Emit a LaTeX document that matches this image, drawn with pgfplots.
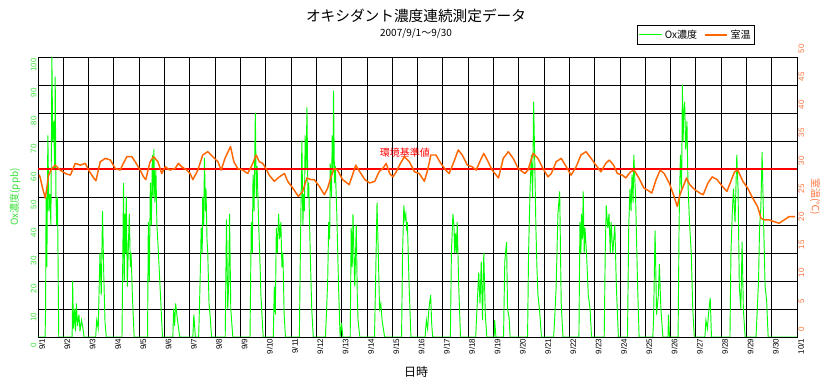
\documentclass[border=0pt]{standalone}
\usepackage{fontspec}
\setmainfont{Liberation Sans}
\newfontfamily\jp{Noto Sans CJK JP}
\usepackage{pgfplots}
\pgfplotsset{compat=1.18}
\definecolor{oxgreen}{RGB}{0,255,0}
\definecolor{oxlabel}{RGB}{60,225,60}
\definecolor{temporange}{RGB}{255,102,0}
\definecolor{templabel}{RGB}{255,115,60}
\begin{document}
\begin{tikzpicture}
\begin{axis}[
  at={(0,0)}, anchor=south west,
  scale only axis, width=569.25pt, height=210pt,
  xmin=0, xmax=30, ymin=0, ymax=100,
  xtick={0,...,30},
  xticklabels={9/1,9/2,9/3,9/4,9/5,9/6,9/7,9/8,9/9,9/10,9/11,9/12,9/13,9/14,9/15,9/16,9/17,9/18,9/19,9/20,9/21,9/22,9/23,9/24,9/25,9/26,9/27,9/28,9/29,9/30,10/1},
  ytick={0,10,...,100},
  grid=major, grid style={black, line width=0.6pt},
  axis line style={black, line width=0.6pt},
  tick style={draw=none},
  /pgf/number format/assume math mode=true,
  xticklabel style={rotate=90, anchor=east, font=\fontsize{6}{7}\selectfont, inner sep=1pt, yshift=-3pt},
  yticklabel style={rotate=90, anchor=south, font=\fontsize{6}{7}\selectfont, text=oxlabel, inner sep=1pt, xshift=-6pt},
  clip=true,
]
\addplot[oxgreen, line width=0.7pt] coordinates {
(0,0) (0.28,0) (0.30,10) (0.32,50) (0.35,25) (0.39,72) (0.43,45) (0.47,51) (0.51,40) (0.55,100) (0.58,70) (0.62,77) (0.66,60) (0.68,93) (0.71,50) (0.74,40) (0.77,50) (0.80,20) (0.82,0)
(1.35,0) (1.37,20) (1.40,3) (1.45,10) (1.48,2) (1.52,12) (1.56,4) (1.62,8) (1.66,2) (1.72,6) (1.78,3) (1.82,0)
(2.28,0) (2.32,6) (2.38,3) (2.45,30) (2.5,15) (2.55,45) (2.6,22) (2.65,5) (2.7,0)
(3.32,0) (3.34,18) (3.38,55) (3.41,20) (3.43,44) (3.46,30) (3.49,50) (3.53,18) (3.58,35) (3.61,44) (3.65,25) (3.68,30) (3.73,15) (3.8,0)
(4.33,0) (4.36,41) (4.40,20) (4.44,55) (4.48,40) (4.52,65) (4.55,50) (4.58,67) (4.62,48) (4.66,60) (4.7,40) (4.76,30) (4.84,15) (4.92,0)
(5.33,0) (5.36,10) (5.4,4) (5.44,12) (5.5,7) (5.56,3) (5.6,0)
(6.12,0) (6.16,8) (6.22,0) (6.35,0) (6.38,10) (6.42,25) (6.45,39) (6.49,30) (6.51,50) (6.55,40) (6.58,64) (6.62,45) (6.64,53) (6.68,35) (6.71,30) (6.76,12) (6.8,8) (6.86,0)
(7.4,0) (7.45,42) (7.5,10) (7.54,20) (7.57,44) (7.62,10) (7.7,0)
(8.38,0) (8.43,41) (8.47,30) (8.5,58) (8.54,45) (8.59,80) (8.63,50) (8.66,61) (8.72,41) (8.78,25) (8.81,15) (8.9,0)
(9.3,0) (9.34,18) (9.38,8) (9.42,39) (9.46,30) (9.51,44) (9.55,35) (9.6,41) (9.64,25) (9.68,30) (9.73,8) (9.78,0)
(10.33,0) (10.37,30) (10.43,70) (10.47,40) (10.5,51) (10.53,45) (10.56,72) (10.6,60) (10.63,82) (10.67,50) (10.7,55) (10.76,30) (10.82,10) (10.88,0)
(11.36,0) (11.4,8) (11.45,20) (11.49,41) (11.53,35) (11.55,62) (11.6,50) (11.63,72) (11.66,60) (11.68,88) (11.72,55) (11.75,61) (11.81,44) (11.88,18) (11.94,0)
(12.0,5) (12.05,0) (12.34,0) (12.38,39) (12.42,25) (12.45,44) (12.52,18) (12.58,40) (12.62,15) (12.65,6) (12.72,0)
(13.3,0) (13.34,18) (13.4,48) (13.45,30) (13.5,10) (13.55,12) (13.6,6) (13.7,0)
(14.37,0) (14.41,30) (14.46,47) (14.5,42) (14.54,44) (14.57,38) (14.6,41) (14.67,18) (14.74,0)
(15.3,0) (15.35,6) (15.4,3) (15.45,10) (15.52,15) (15.56,5) (15.6,0)
(16.3,0) (16.34,30) (16.4,44) (16.44,40) (16.47,30) (16.5,37) (16.54,30) (16.57,41) (16.63,18) (16.7,0)
(17.3,0) (17.35,10) (17.42,23) (17.47,12) (17.52,27) (17.57,6) (17.62,30) (17.68,8) (17.74,0)
(18.03,0) (18.05,6) (18.1,0) (18.4,0) (18.45,27) (18.52,34) (18.56,10) (18.62,7) (18.66,0)
(19.35,0) (19.39,30) (19.45,53) (19.5,65) (19.55,50) (19.59,84) (19.63,65) (19.68,39) (19.72,25) (19.76,15) (19.82,10) (19.9,0)
(20.38,0) (20.42,6) (20.48,18) (20.55,44) (20.62,52) (20.68,12) (20.75,0)
(21.38,0) (21.42,41) (21.46,30) (21.48,44) (21.52,35) (21.55,52) (21.59,30) (21.62,39) (21.68,30) (21.75,15) (21.82,10) (21.88,0)
(22.38,0) (22.42,30) (22.46,47) (22.52,39) (22.57,44) (22.62,30) (22.65,41) (22.72,30) (22.8,40) (22.86,18) (22.94,0)
(23.3,0) (23.35,40) (23.4,53) (23.44,45) (23.48,58) (23.52,48) (23.55,65) (23.62,50) (23.7,18) (23.76,0)
(24.3,0) (24.33,6) (24.39,38) (24.45,8) (24.52,15) (24.56,26) (24.62,10) (24.7,0) (24.9,0) (24.92,8) (24.96,0)
(25.3,0) (25.34,41) (25.39,65) (25.44,53) (25.47,90) (25.5,70) (25.52,80) (25.56,84) (25.6,67) (25.65,77) (25.69,55) (25.75,41) (25.82,30) (25.88,10) (25.94,0)
(26.36,0) (26.4,6) (26.46,3) (26.5,8) (26.57,14) (26.62,0)
(27.35,0) (27.39,30) (27.44,44) (27.49,53) (27.55,41) (27.62,65) (27.67,53) (27.72,18) (27.78,10) (27.83,34) (27.88,10) (27.95,0)
(28.38,0) (28.42,8) (28.48,20) (28.52,39) (28.57,46) (28.62,66) (28.68,41) (28.74,18) (28.8,13) (28.86,0)
(30,0)
};
\addplot[red, line width=1.5pt] coordinates {(0,60) (30,60)};
\node[text=red, font=\jp\fontsize{7.5}{8}\selectfont] at (axis cs:14.5,65.7) {環境基準値};
\end{axis}
\begin{axis}[
  at={(0,0)}, anchor=south west,
  scale only axis, width=569.25pt, height=210pt,
  xmin=0, xmax=30, ymin=0, ymax=50,
  axis x line=none, axis y line*=right,
  axis line style={black, line width=0.6pt},
  ytick={0,5,...,50},
  tick style={draw=none},
  /pgf/number format/assume math mode=true,
  yticklabel style={rotate=90, anchor=north, font=\fontsize{6}{7}\selectfont, text=templabel, inner sep=1pt, xshift=6pt},
  legend columns=2,
  legend style={at={(0.867,1.079)}, anchor=center, draw=black, line width=0.6pt, font=\jp\fontsize{7.5}{8}\selectfont, inner sep=1pt, /tikz/every even column/.append style={column sep=3pt}},
]
\addlegendimage{oxgreen, line width=0.6pt}
\addlegendentry{Ox濃度}
\addplot[temporange, line width=1.1pt, line join=round] coordinates {
(0.05,29.0) (0.09,28.4) (0.18,26.6) (0.29,24.8) (0.42,28.9) (0.55,30.1) (0.68,30.7) (0.88,29.8) (1.08,29.2) (1.28,28.9) (1.47,31.0) (1.67,30.7) (1.87,31.0) (2.0,29.8) (2.2,28.4) (2.29,27.9) (2.46,31.3) (2.66,31.9) (2.86,31.6) (3.05,30.1) (3.25,29.8) (3.34,30.7) (3.51,32.2) (3.71,32.2) (3.84,31.3) (4.04,29.8) (4.17,28.6) (4.26,28.1) (4.43,31.3) (4.57,32.2) (4.74,31.3) (4.89,29.2) (5.03,30.4) (5.22,29.8) (5.42,30.1) (5.55,31.0) (5.68,30.4) (5.88,29.8) (6.01,29.2) (6.12,28.1) (6.32,29.8) (6.51,32.5) (6.71,33.1) (6.91,32.2) (7.11,31.3) (7.24,29.8) (7.39,31.9) (7.61,34.0) (7.74,31.3) (7.89,30.1) (8.09,29.8) (8.29,29.2) (8.49,31.0) (8.62,32.5) (8.75,31.3) (8.88,31.0) (9.01,30.1) (9.14,28.9) (9.34,27.8) (9.54,28.6) (9.74,29.2) (9.87,27.8) (10.07,26.6) (10.29,25.1) (10.46,26.0) (10.63,28.4) (10.79,28.1) (10.92,28.1) (11.12,26.9) (11.32,25.4) (11.45,26.6) (11.58,28.6) (11.71,30.1) (11.84,29.8) (12.04,28.1) (12.13,27.8) (12.3,27.2) (12.43,28.9) (12.56,30.7) (12.72,29.5) (12.92,28.1) (13.11,27.5) (13.31,27.8) (13.48,29.5) (13.63,30.1) (13.76,31.0) (13.9,29.2) (14.03,28.6) (14.16,29.5) (14.29,30.7) (14.48,32.2) (14.68,31.3) (14.88,29.5) (15.07,29.2) (15.27,27.8) (15.4,29.8) (15.53,32.5) (15.73,32.5) (15.92,31.0) (16.12,29.8) (16.25,29.2) (16.44,31.3) (16.61,33.4) (16.77,32.5) (16.97,30.7) (17.16,30.4) (17.32,29.8) (17.49,31.6) (17.62,32.8) (17.79,31.3) (17.95,29.8) (18.2,28.4) (18.39,31.9) (18.59,33.1) (18.78,31.9) (18.98,30.1) (19.24,29.2) (19.37,29.8) (19.57,32.8) (19.76,31.9) (19.96,30.1) (20.16,28.6) (20.29,29.2) (20.48,31.3) (20.68,31.9) (20.88,30.4) (21.07,28.9) (21.27,30.4) (21.46,32.5) (21.66,33.1) (21.86,31.9) (22.05,30.7) (22.25,29.5) (22.44,31.0) (22.58,31.6) (22.75,30.7) (22.9,29.2) (23.1,28.9) (23.23,28.4) (23.42,29.5) (23.56,29.8) (23.75,28.4) (23.95,26.6) (24.07,26.3) (24.26,25.7) (24.43,28.1) (24.59,29.8) (24.75,29.2) (24.95,27.5) (25.14,25.1) (25.27,23.3) (25.37,25.4) (25.53,27.2) (25.63,28.4) (25.76,27.2) (25.96,26.3) (26.16,25.7) (26.29,25.4) (26.48,27.5) (26.65,28.6) (26.84,28.1) (27.05,26.9) (27.23,26.0) (27.36,27.5) (27.53,29.5) (27.66,29.8) (27.86,27.8) (28.05,26.6) (28.25,24.8) (28.44,23.3) (28.58,21.2) (28.71,20.9) (28.9,20.9) (29.1,20.6) (29.29,20.3) (29.49,20.9) (29.69,21.5) (29.92,21.5)
};
\addlegendentry{室温}
\end{axis}
\node[font=\jp\fontsize{11}{12}\selectfont] at (283.5pt,240.75pt) {オキシダント濃度連続測定データ};
\node[font=\jp\fontsize{7.5}{8}\selectfont] at (283.5pt,228pt) {2007/9/1～9/30};
\node[font=\jp\fontsize{9}{10}\selectfont] at (283.5pt,-26.25pt) {日時};
\node[rotate=90, text=oxlabel, font=\jp\fontsize{7.5}{8}\selectfont] at (-17.25pt,105pt) {Ox濃度(ppb)};
\node[rotate=-90, text=templabel, font=\jp\fontsize{7.5}{8}\selectfont] at (582.75pt,105pt) {室温(℃)};
\pgfresetboundingbox
\path[use as bounding box] (-28.5pt,-36pt) rectangle (595.5pt,252.75pt);
\end{tikzpicture}
\end{document}
